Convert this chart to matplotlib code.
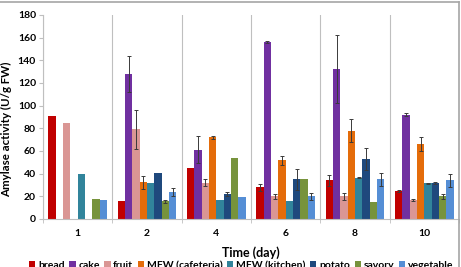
import matplotlib
matplotlib.use("Agg")
import matplotlib.pyplot as plt
import numpy as np
from matplotlib.lines import Line2D

plt.rcParams["font.family"] = ["Lato", "DejaVu Sans"]

days = ["1", "2", "4", "6", "8", "10"]
series = ["bread", "cake", "fruit", "MFW (cafeteria)", "MFW (kitchen)", "potato", "savory", "vegetable"]
colors = ["#C00000", "#7030A0", "#DA9694", "#E46C0A", "#31849B", "#1F497D", "#77933C", "#558ED5"]

bread = [91, 16, 45, 28, 34, 25]
cake = [0, 128, 61, 156, 132, 92]
fruit = [85, 79, 32, 20, 20, 17]
mfw_caf = [0, 32.5, 72, 52, 78, 66]
mfw_kit = [40, 32, 17, 16, 36.5, 31.5]
potato = [0, 41, 22, 35, 53, 32]
savory = [18, 15.5, 54, 35, 15, 20]
vegetable = [17, 24, 19, 20, 35, 34]

bread_err = [0, 0, 0, 3, 5, 1]
cake_err = [0, 16, 12, 1, 30, 1.5]
fruit_err = [0, 17.5, 3, 2, 3, 1]
mfw_caf_err = [0, 5.7, 1.5, 4, 10, 6]
mfw_kit_err = [0, 0, 0, 0, 0.5, 0.5]
potato_err = [0, 0, 2, 9, 10, 1]
savory_err = [0, 1, 0, 0, 0, 2]
vegetable_err = [0, 3.5, 0, 3, 6, 6]

values = [bread, cake, fruit, mfw_caf, mfw_kit, potato, savory, vegetable]
errors = [bread_err, cake_err, fruit_err, mfw_caf_err, mfw_kit_err, potato_err, savory_err, vegetable_err]

fig = plt.figure(figsize=(4.61, 2.67), dpi=100)
ax = fig.add_axes([43 / 461, 1 - 219 / 267, (459 - 43) / 461, (219 - 15) / 267])

x = np.arange(len(days))
n = len(series)
bw = 0.85 / n
for i, (name, vals, errs, c) in enumerate(zip(series, values, errors, colors)):
    pos = x - 0.425 + bw * (i + 0.5)
    ax.bar(pos, vals, width=bw, color=c, label=name, zorder=2)
    for p, v, e in zip(pos, vals, errs):
        if e > 0:
            ax.errorbar(p, v, yerr=e, fmt="none", ecolor="#3a3a3a", elinewidth=0.7,
                        capsize=1.3, capthick=0.7, zorder=3)

ax.set_xlim(-0.5, len(days) - 0.5)
ax.set_ylim(0, 180)
ax.set_yticks(range(0, 181, 20))
ax.set_xticks(x)
ax.set_xticklabels(days, fontsize=7.5, fontweight="bold")
ax.set_xticks(np.arange(-0.5, len(days)), minor=True)
ax.tick_params(axis="x", which="major", length=0, pad=7)
ax.tick_params(axis="x", which="minor", length=3, color="#BFBFBF")
ax.tick_params(axis="y", length=3, color="#BFBFBF", labelsize=7.5, pad=2)
for lab in ax.get_yticklabels():
    lab.set_fontweight("bold")
ax.grid(True, axis="x", which="minor", color="#BFBFBF", linewidth=0.8, zorder=0)
for s in ["top", "right"]:
    ax.spines[s].set_visible(False)
for s in ["left", "bottom"]:
    ax.spines[s].set_color("#BFBFBF")

ax.set_xlabel("Time (day)", fontsize=9, fontweight="bold")
ax.xaxis.set_label_coords(0.5, -0.135)
ax.set_ylabel("Amylase activity (U/g FW)", fontsize=8.3, fontweight="bold")
ax.yaxis.set_label_coords(-0.075, 0.44)

handles, labels = ax.get_legend_handles_labels()
fig.legend(handles, labels, loc="center", bbox_to_anchor=(0.523, 1 - 265.5 / 267), ncol=8,
           frameon=False, prop={"weight": "bold", "size": 7.5},
           handlelength=0.6, handleheight=0.6, handletextpad=0.25, columnspacing=0.45)

# outer chart border (cropped)
fig.add_artist(Line2D([0, 459 / 461], [1 - 2 / 267, 1 - 2 / 267], color="#A6A6A6", linewidth=1.2))
fig.add_artist(Line2D([459 / 461, 459 / 461], [0, 1 - 2 / 267], color="#A6A6A6", linewidth=1.2))

fig.savefig("out.png", dpi=100)
